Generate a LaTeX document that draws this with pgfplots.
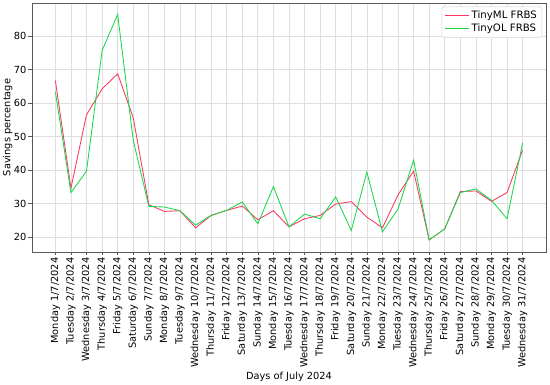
\documentclass[border=0pt]{standalone}
\usepackage{pgfplots}
\pgfplotsset{compat=1.18}
\usepackage{fontspec}
\setmainfont{DejaVu Sans}
\definecolor{mlred}{RGB}{250,55,95}
\definecolor{olgreen}{RGB}{25,215,75}
\begin{document}
\begin{tikzpicture}
\begin{axis}[
  at={(0,0)}, anchor=south west,
  scale only axis, width=514pt, height=249pt,
  xmin=-1.5, xmax=31.5, ymin=15.6, ymax=89.8,
  xtick={0,...,30},
  xticklabels={Monday 1/7/2024, Tuesday 2/7/2024, Wednesday 3/7/2024, Thursday 4/7/2024, Friday 5/7/2024, Saturday 6/7/2024, Sunday 7/7/2024, Monday 8/7/2024, Tuesday 9/7/2024, Wednesday 10/7/2024, Thursday 11/7/2024, Friday 12/7/2024, Saturday 13/7/2024, Sunday 14/7/2024, Monday 15/7/2024, Tuesday 16/7/2024, Wednesday 17/7/2024, Thursday 18/7/2024, Friday 19/7/2024, Saturday 20/7/2024, Sunday 21/7/2024, Monday 22/7/2024, Tuesday 23/7/2024, Wednesday 24/7/2024, Thursday 25/7/2024, Friday 26/7/2024, Saturday 27/7/2024, Sunday 28/7/2024, Monday 29/7/2024, Tuesday 30/7/2024, Wednesday 31/7/2024},
  xticklabel style={rotate=90, anchor=east, font=\fontsize{9.8}{10}\selectfont, inner sep=2pt},
  ytick={20,30,40,50,60,70,80},
  yticklabel style={font=\fontsize{9.8}{10}\selectfont, inner sep=2pt},
  /pgf/number format/assume math mode=true,
  tick align=outside, tick pos=left,
  major tick length=3.5pt,
  every tick/.style={gray!70!black, line width=0.6pt},
  axis line style={gray!70!black, line width=0.7pt},
  grid=major,
  major grid style={gray!25, line width=0.7pt},
  xlabel={Days of July 2024},
  ylabel={Savings percentage},
  label style={font=\fontsize{9.8}{10}\selectfont},
  xlabel style={yshift=1pt},
  ylabel style={yshift=-4pt},
  legend cell align=left,
  legend style={font=\fontsize{10.2}{11.5}\selectfont, draw=gray!35, rounded corners=1.5pt, inner xsep=3pt, inner ysep=2pt, row sep=0pt, at={(0.9925,0.985)}, anchor=north east},
  legend image code/.code={\draw[#1, line width=0.9pt] (0pt,0pt) -- (24pt,0pt);},
]
\addplot[mlred, line width=0.85pt] coordinates {
(0,66.7) (1,34.6) (2,56.5) (3,64.2) (4,68.7) (5,55.6) (6,29.7) (7,27.7) (8,27.9) (9,22.8)
(10,26.5) (11,28.0) (12,29.3) (13,25.2) (14,27.9) (15,23.1) (16,25.5) (17,26.5) (18,29.9) (19,30.6)
(20,26.0) (21,22.8) (22,32.6) (23,39.7) (24,19.2) (25,22.5) (26,33.6) (27,33.8) (28,30.7) (29,33.3) (30,46.0)};
\addlegendentry{TinyML FRBS}
\addplot[olgreen, line width=0.85pt] coordinates {
(0,63.4) (1,33.3) (2,39.7) (3,75.6) (4,86.4) (5,48.9) (6,29.2) (7,29.0) (8,27.9) (9,23.6)
(10,26.5) (11,28.0) (12,30.5) (13,24.0) (14,35.1) (15,23.1) (16,26.9) (17,25.5) (18,32.0) (19,22.0)
(20,39.4) (21,21.6) (22,28.4) (23,43.0) (24,19.2) (25,22.5) (26,33.3) (27,34.4) (28,31.0) (29,25.5) (30,48.1)};
\addlegendentry{TinyOL FRBS}
\end{axis}
\pgfresetboundingbox
\path (-32pt,-133pt) rectangle (518pt,252pt);
\end{tikzpicture}
\end{document}
